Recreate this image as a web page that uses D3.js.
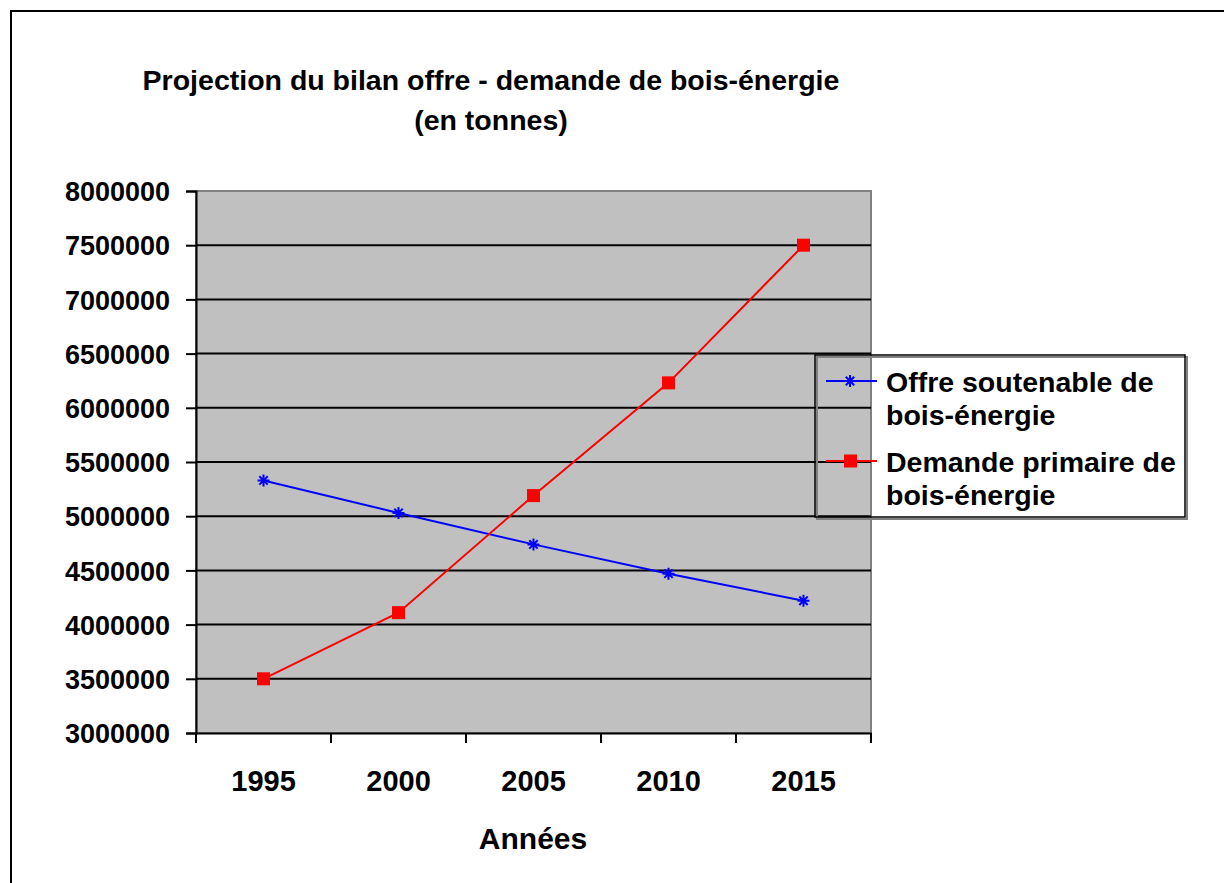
<!DOCTYPE html>
<meta charset="utf-8">
<style>
body { margin: 0; background: #fff; }
text { font-family: "Liberation Sans", Arial, sans-serif; font-weight: bold; fill: #000; }
</style>
<svg width="1224" height="883"></svg>
<script src="https://d3js.org/d3.v7.min.js"></script>
<script>

var years = ["1995", "2000", "2005", "2010", "2015"];
var offre = [5330000, 5030000, 4740000, 4470000, 4220000];
var demande = [3500000, 4110000, 5190000, 6230000, 7500000];
var seriesNames = ["Offre soutenable de|bois-énergie", "Demande primaire de|bois-énergie"];
var yTicks = d3.range(3000000, 8000001, 500000);

var svg = d3.select("svg");

// outer chart frame (only top/left visible)
svg.append("rect")
    .attr("x", 11).attr("y", 11)
    .attr("width", 1240).attr("height", 900)
    .attr("fill", "none").attr("stroke", "#000").attr("stroke-width", 2);

var margin = {left: 196, top: 191, right: 871, bottom: 733};

var x = d3.scaleBand().domain(years).range([margin.left, margin.right]);
var y = d3.scaleLinear().domain([3000000, 8000000]).range([margin.bottom, margin.top]);

// plot area
svg.append("rect")
    .attr("x", margin.left).attr("y", margin.top)
    .attr("width", margin.right - margin.left).attr("height", margin.bottom - margin.top)
    .attr("fill", "#c0c0c0").attr("stroke", "#808080").attr("stroke-width", 2);

// gridlines
svg.append("g")
    .selectAll("line")
    .data(yTicks.slice(1, -1))
    .enter().append("line")
    .attr("x1", margin.left).attr("x2", margin.right)
    .attr("y1", function(d) { return y(d); })
    .attr("y2", function(d) { return y(d); })
    .attr("stroke", "#000").attr("stroke-width", 2);

// y axis
var yAxis = svg.append("g")
    .attr("transform", "translate(" + margin.left + ",0)")
    .call(d3.axisLeft(y).tickValues(yTicks).tickSize(10).tickPadding(16).tickFormat(d3.format("d")));
yAxis.select(".domain").attr("stroke", "#000").attr("stroke-width", 2);
yAxis.selectAll(".tick line").attr("stroke", "#000").attr("stroke-width", 2);
yAxis.selectAll("text").style("font-size", "27px").attr("dy", "0.36em");

// x axis
var xAxis = svg.append("g")
    .attr("transform", "translate(0," + margin.bottom + ")")
    .call(d3.axisBottom(x).tickSize(0).tickPadding(37));
xAxis.select(".domain").attr("stroke", "#000").attr("stroke-width", 2);
xAxis.selectAll("text").style("font-size", "29px");
xAxis.selectAll(".xt")
    .data(years.concat(["end"]))
    .enter().append("line")
    .attr("x1", function(d, i) { return margin.left + i * x.step(); })
    .attr("x2", function(d, i) { return margin.left + i * x.step(); })
    .attr("y1", 0).attr("y2", 10)
    .attr("stroke", "#000").attr("stroke-width", 2);

function cx(d, i) { return x(years[i]) + x.bandwidth() / 2; }

var line = d3.line().x(cx).y(function(d) { return y(d); });

// offre series
svg.append("path").datum(offre)
    .attr("d", line).attr("fill", "none").attr("stroke", "#0000ff").attr("stroke-width", 2);

function star(g, px, py) {
  var r = 6;
  g.append("path")
    .attr("d", "M" + (px - r) + "," + py + "H" + (px + r) +
               "M" + (px - r * 0.7) + "," + (py - r * 0.7) + "L" + (px + r * 0.7) + "," + (py + r * 0.7) +
               "M" + (px - r * 0.7) + "," + (py + r * 0.7) + "L" + (px + r * 0.7) + "," + (py - r * 0.7) +
               "M" + px + "," + (py - r) + "V" + (py + r))
    .attr("stroke", "#0000ff").attr("stroke-width", 2).attr("fill", "none");
}
var stars = svg.append("g");
offre.forEach(function(d, i) { star(stars, cx(d, i), y(d)); });

// demande series
svg.append("path").datum(demande)
    .attr("d", line).attr("fill", "none").attr("stroke", "#ff0000").attr("stroke-width", 2);
svg.append("g").selectAll("rect")
    .data(demande)
    .enter().append("rect")
    .attr("x", function(d, i) { return cx(d, i) - 6.5; })
    .attr("y", function(d) { return y(d) - 6.5; })
    .attr("width", 13).attr("height", 13)
    .attr("fill", "#ff0000");

// title
var title = svg.append("text")
    .attr("x", 491).attr("y", 90)
    .attr("text-anchor", "middle")
    .style("font-size", "28.5px");
title.append("tspan").attr("x", 491).text("Projection du bilan offre - demande de bois-énergie");
title.append("tspan").attr("x", 491).attr("dy", 40).text("(en tonnes)");

// x axis title
svg.append("text")
    .attr("x", 533).attr("y", 849)
    .attr("text-anchor", "middle")
    .style("font-size", "30px")
    .text("Années");

// legend
svg.append("rect")
    .attr("x", 817).attr("y", 357).attr("width", 370).attr("height", 162)
    .attr("fill", "none").attr("stroke", "#808080").attr("stroke-width", 2);
svg.append("rect")
    .attr("x", 815).attr("y", 355).attr("width", 370).attr("height", 162)
    .attr("fill", "none").attr("stroke", "#000").attr("stroke-width", 1.5);

var legendY = [381, 461];
var leg = svg.append("g");
seriesNames.forEach(function(name, i) {
  var ly = legendY[i];
  var col = i === 0 ? "#0000ff" : "#ff0000";
  leg.append("line").attr("x1", 826).attr("x2", 877).attr("y1", ly).attr("y2", ly)
    .attr("stroke", col).attr("stroke-width", 2);
  if (i === 0) star(leg, 850, ly);
  else leg.append("rect").attr("x", 844).attr("y", ly - 6.5).attr("width", 13).attr("height", 13).attr("fill", col);
  var parts = name.split("|");
  var t = leg.append("text").attr("x", 886).attr("y", ly + 11).style("font-size", "28.5px");
  t.append("tspan").attr("x", 886).text(parts[0]);
  t.append("tspan").attr("x", 886).attr("dy", 33).text(parts[1]);
});

</script>
